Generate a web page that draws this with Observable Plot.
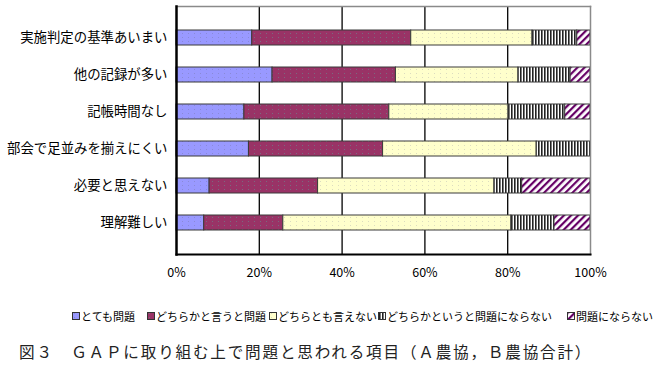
<!DOCTYPE html>
<html><head><meta charset="utf-8">
<script src="https://cdn.jsdelivr.net/npm/d3@7"></script>
<script src="https://cdn.jsdelivr.net/npm/@observablehq/plot@0.6"></script>
<style>
body{margin:0;background:#fff;}
#wrap{position:relative;width:663px;height:367px;overflow:hidden;font-family:"Noto Sans CJK JP",sans-serif;}
#chart{position:absolute;left:0;top:0;}
.leg{position:absolute;top:308px;font-size:11px;line-height:16px;white-space:nowrap;display:flex;align-items:center;color:#000;letter-spacing:0px;}
.leg svg{margin-right:1px;}
#cap{position:absolute;left:19px;top:341px;font-size:15.6px;line-height:20px;letter-spacing:1.8px;white-space:nowrap;color:#222;}
</style></head>
<body><div id="wrap"><div id="chart"></div><div id="legend"></div><div id="cap">図３　ＧＡＰに取り組む上で問題と思われる項目（Ａ農協，Ｂ農協合計）</div></div>
<script>
const categories = ["実施判定の基準あいまい","他の記録が多い","記帳時間なし","部会で足並みを揃えにくい","必要と思えない","理解難しい"];
const series = ["とても問題","どちらかと言うと問題","どちらとも言えない","どちらかというと問題にならない","問題にならない"];
const v_totemo = [18.3, 23.2, 16.4, 17.5, 8.0, 6.7];
const v_dochiraka = [38.4, 29.8, 35.0, 32.4, 26.2, 19.1];
const v_dochiratomo = [29.3, 29.6, 28.8, 37.1, 42.6, 55.1];
const v_naranai2 = [10.8, 12.6, 13.7, 13.0, 6.7, 10.4];
const v_naranai = [3.2, 4.8, 6.1, 0, 16.5, 8.7];
const xTicks = [0, 20, 40, 60, 80, 100];

const seriesValues = [v_totemo, v_dochiraka, v_dochiratomo, v_naranai2, v_naranai];
const rows = [];
series.forEach((s, i) => categories.forEach((c, j) => rows.push({cat: c, series: s, value: seriesValues[i][j]})));
const fills = ["url(#p0)","url(#p1)","url(#p2)","url(#p3)","url(#p4)"];

const chart = Plot.plot({
  width: 663, height: 290,
  marginLeft: 176, marginRight: 73, marginTop: 6, marginBottom: 36,
  style: {fontFamily: '"Noto Sans CJK JP", sans-serif', fontSize: "12px", background: "#fff", color: "#000"},
  x: {domain: [0, 100], label: null},
  y: {domain: categories, padding: 0.585, label: null},
  color: {domain: series, range: fills},
  marks: [
    Plot.ruleX(xTicks.slice(1, -1), {stroke: "#000", strokeWidth: 1.3}),
    Plot.barX(rows, Plot.stackX({x: "value", y: "cat", fill: "series", stroke: "#3a3a3a", strokeWidth: 1, order: null})),
    Plot.axisX({ticks: xTicks, tickFormat: d => d + "%", tickSize: 0, tickPadding: 14, fontSize: 12.5, label: null}),
    Plot.axisY({tickSize: 0, tickPadding: 9, fontSize: 13.4, label: null}),
    Plot.frame({anchor: "top", stroke: "#8a8a8a", strokeWidth: 1.5}),
    Plot.frame({anchor: "right", stroke: "#8a8a8a", strokeWidth: 1.5}),
    Plot.frame({anchor: "bottom", stroke: "#000", strokeWidth: 2}),
    Plot.frame({anchor: "left", stroke: "#000", strokeWidth: 2.5})
  ]
});
const defs = `
<defs>
<pattern id="p0" patternUnits="userSpaceOnUse" width="6" height="4"><rect width="6" height="4" fill="#9999ff"/><rect x="2" y="1" width="1" height="1" fill="#8a8ad8"/></pattern>
<pattern id="p1" patternUnits="userSpaceOnUse" width="6" height="4"><rect width="6" height="4" fill="#993366"/><rect x="2" y="1" width="1" height="1" fill="#7a6a80"/></pattern>
<pattern id="p2" patternUnits="userSpaceOnUse" width="6" height="4"><rect width="6" height="4" fill="#ffffcc"/><rect x="2" y="1" width="1" height="1" fill="#dcdcc0"/></pattern>
<pattern id="p3" patternUnits="userSpaceOnUse" width="3" height="4"><rect width="3" height="4" fill="#fff"/><rect x="1" y="0" width="1.6" height="4" fill="#222"/></pattern>
<pattern id="p4" patternUnits="userSpaceOnUse" width="5" height="5" patternTransform="rotate(45)"><rect width="5" height="5" fill="#fff"/><rect x="0" y="0" width="2.2" height="5" fill="#660066"/></pattern>
</defs>`;
chart.insertAdjacentHTML("afterbegin", defs);
document.getElementById("chart").appendChild(chart);

const legX = [72, 147, 269, 378, 567];
const legend = document.getElementById("legend");
series.forEach((s, i) => {
  const d = document.createElement("div");
  d.className = "leg";
  d.style.left = legX[i] + "px";
  d.innerHTML = `<svg width="8" height="8"><rect x="0.5" y="0.5" width="7" height="7" fill="${fills[i]}" stroke="#333" stroke-width="1"/></svg><span>${s}</span>`;
  legend.appendChild(d);
});
</script>
</body></html>
